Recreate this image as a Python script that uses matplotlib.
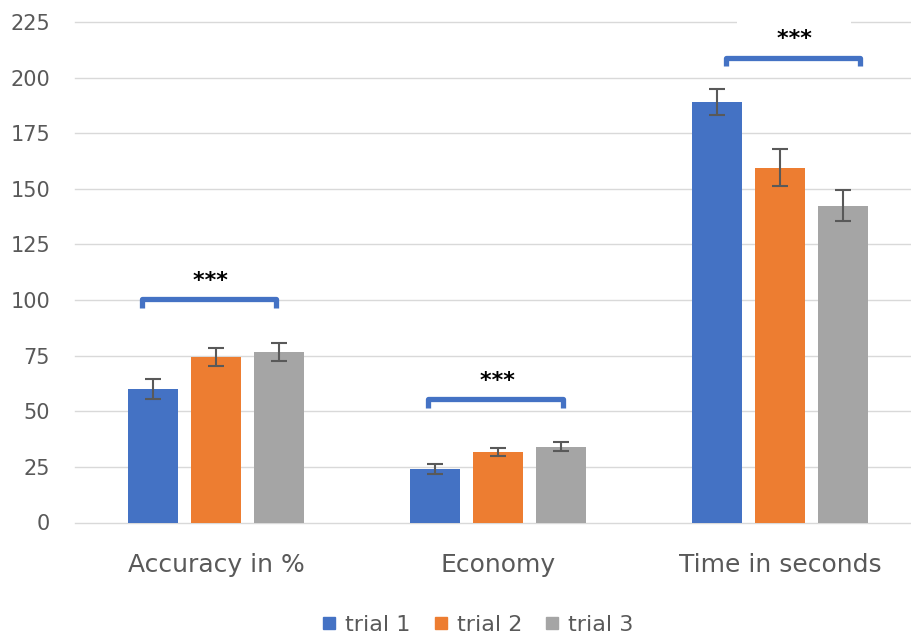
import numpy as np
import matplotlib.pyplot as plt
from matplotlib.lines import Line2D

categories = ["Accuracy in %", "Economy", "Time in seconds"]
trials = ["trial 1", "trial 2", "trial 3"]
means = {
    "trial 1": [60.0, 24.0, 189.0],
    "trial 2": [74.5, 31.6, 159.5],
    "trial 3": [76.8, 34.0, 142.5],
}
errs = {
    "trial 1": [4.5, 2.1, 5.9],
    "trial 2": [4.1, 1.9, 8.4],
    "trial 3": [4.1, 2.0, 6.8],
}
colors = ["#4472C4", "#ED7D31", "#A5A5A5"]

# significance brackets: (left, right, top, leg bottom, star x, star y)
brackets = [(-0.264, 0.211, 100.4, 96.5, -0.021, 108.6),
            (0.751, 1.229, 55.3, 51.4, 0.999, 63.4),
            (1.81, 2.283, 209.0, 205.1, 2.05, 217.2)]

plt.rcParams['font.family'] = ['DejaVu Sans']
txt = "#595959"

fig = plt.figure(figsize=(9.12, 6.37), dpi=100)
ax = fig.add_axes([75 / 912, 114.5 / 637, 846 / 912, 500.5 / 637])

x = np.arange(len(categories))
w = 0.174
step = 0.2234
for i, t in enumerate(trials):
    ax.bar(x + (i - 1) * step, means[t], w, color=colors[i], zorder=2,
           yerr=errs[t], error_kw=dict(ecolor="#595959", elinewidth=1.5,
                                      capsize=6, capthick=1.5, zorder=3))

ax.set_xlim(-0.5, 2.5)
ax.set_ylim(0, 225)
ax.set_yticks(np.arange(0, 226, 25))
ax.yaxis.grid(True, color="#D9D9D9", linewidth=1.0, zorder=0)
for gl in ax.yaxis.get_gridlines():
    gl.set_clip_on(False)
ax.set_axisbelow(True)
for s in ax.spines.values():
    s.set_visible(False)
ax.tick_params(axis="y", length=0, pad=18, labelsize=15, labelcolor=txt)
ax.tick_params(axis="x", length=0, pad=22, labelsize=18, labelcolor=txt)
ax.set_xticks(x)
ax.set_xticklabels(categories)

for l, r, top, bot, sx, sy in brackets:
    ax.plot([l, l, r, r], [bot, top, top, bot], color="#4472C4", linewidth=3.8,
            solid_joinstyle="round", solid_capstyle="butt", zorder=6, clip_on=False)
    ax.text(sx, sy, "    ***    ", ha="center", va="center", fontsize=16,
            fontweight="bold", color="black", zorder=5, clip_on=False,
            bbox=dict(boxstyle="square,pad=0.4", facecolor="white", edgecolor="none"))

handles = [Line2D([], [], marker="s", linestyle="none", markersize=9,
                  markerfacecolor=c, markeredgecolor=c) for c in colors]
fig.legend(handles, trials, loc="center", bbox_to_anchor=(0.523, 1 - 625 / 637),
           ncol=3, frameon=False, fontsize=16, labelcolor=txt,
           handlelength=0.8, handletextpad=0.32, columnspacing=0.95)

fig.savefig("out.png", dpi=100)
